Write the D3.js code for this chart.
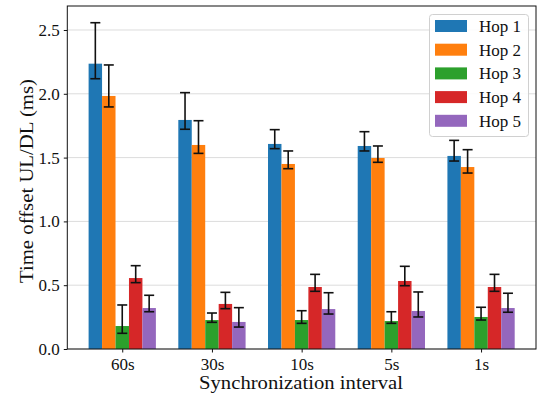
<!DOCTYPE html>
<html>
<head>
<meta charset="utf-8">
<script src="https://cdn.jsdelivr.net/npm/d3@7"></script>
<style>
  body { margin: 0; background: #fff; }
  svg text { font-family: "Liberation Serif", "DejaVu Serif", serif; fill: #111; }
</style>
</head>
<body>
<svg id="chart" width="539" height="398"></svg>
<script>
// categories and series
const intervals = ["60s", "30s", "10s", "5s", "1s"];
const hops = ["Hop 1", "Hop 2", "Hop 3", "Hop 4", "Hop 5"];
const colors = ["#1f77b4", "#ff7f0e", "#2ca02c", "#d62728", "#9467bd"];

// mean offset per hop (ms), one value per interval
const hop1 = [2.236, 1.795, 1.607, 1.591, 1.513];
const hop2 = [1.983, 1.599, 1.450, 1.497, 1.426];
const hop3 = [0.180, 0.227, 0.227, 0.219, 0.251];
const hop4 = [0.556, 0.353, 0.486, 0.533, 0.486];
const hop5 = [0.321, 0.212, 0.313, 0.298, 0.321];

// error bar bounds (ms)
const hop1Low = [2.118, 1.722, 1.570, 1.552, 1.473];
const hop1High = [2.557, 2.009, 1.719, 1.703, 1.635];
const hop2Low = [1.897, 1.533, 1.413, 1.463, 1.379];
const hop2High = [2.226, 1.789, 1.552, 1.591, 1.562];
const hop3Low = [0.123, 0.209, 0.201, 0.201, 0.227];
const hop3High = [0.345, 0.282, 0.300, 0.292, 0.327];
const hop4Low = [0.520, 0.316, 0.452, 0.496, 0.452];
const hop4High = [0.653, 0.444, 0.585, 0.648, 0.585];
const hop5Low = [0.292, 0.172, 0.274, 0.251, 0.288];
const hop5High = [0.421, 0.324, 0.441, 0.447, 0.437];

const yTicks = [0, 0.5, 1.0, 1.5, 2.0, 2.5];

const means = [hop1, hop2, hop3, hop4, hop5];
const lows = [hop1Low, hop2Low, hop3Low, hop4Low, hop5Low];
const highs = [hop1High, hop2High, hop3High, hop4High, hop5High];

const data = [];
hops.forEach((h, j) => {
  intervals.forEach((c, i) => {
    data.push({hop: j, cat: i, v: means[j][i], lo: lows[j][i], hi: highs[j][i]});
  });
});

const svg = d3.select("#chart");
const pLeft = 67.3, pRight = 536, pTop = 6, pBottom = 349;
const barW = 0.15;

const x = d3.scaleLinear().domain([-0.6125, 4.6125]).range([pLeft, pRight]);
const y = d3.scaleLinear().domain([0, 2.688]).range([pBottom, pTop]);

// grid
svg.append("g").selectAll("line")
  .data(yTicks)
  .enter().append("line")
  .attr("x1", pLeft).attr("x2", pRight)
  .attr("y1", d => y(d)).attr("y2", d => y(d))
  .style("stroke", "#dcdcdc")
  .style("stroke-width", 1);

// bars
svg.append("g").selectAll("rect")
  .data(data)
  .enter().append("rect")
  .attr("x", d => x(d.cat + (d.hop - 2) * barW - barW / 2))
  .attr("y", d => y(d.v))
  .attr("width", x(barW) - x(0))
  .attr("height", d => pBottom - y(d.v))
  .style("fill", d => colors[d.hop]);

// error bars
const eb = svg.append("g").selectAll("g")
  .data(data)
  .enter().append("g")
  .attr("transform", d => `translate(${x(d.cat + (d.hop - 2) * barW)},0)`);
eb.append("line")
  .attr("x1", 0).attr("x2", 0)
  .attr("y1", d => y(d.lo)).attr("y2", d => y(d.hi))
  .style("stroke", "#111").style("stroke-width", 1.6);
eb.append("line")
  .attr("x1", -5).attr("x2", 5)
  .attr("y1", d => y(d.lo)).attr("y2", d => y(d.lo))
  .style("stroke", "#111").style("stroke-width", 1.6);
eb.append("line")
  .attr("x1", -5).attr("x2", 5)
  .attr("y1", d => y(d.hi)).attr("y2", d => y(d.hi))
  .style("stroke", "#111").style("stroke-width", 1.6);

// axes
const yAxis = svg.append("g")
  .attr("transform", `translate(${pLeft},0)`)
  .call(d3.axisLeft(y).tickValues(yTicks).tickFormat(d3.format(".1f")).tickSize(3.5).tickPadding(4));
const xAxis = svg.append("g")
  .attr("transform", `translate(0,${pBottom})`)
  .call(d3.axisBottom(x).tickValues(d3.range(intervals.length)).tickFormat(i => intervals[i]).tickSize(3.5).tickPadding(5));
[yAxis, xAxis].forEach(a => {
  a.select(".domain").remove();
  a.selectAll("line").style("stroke", "#111");
  a.selectAll("text").style("font-size", "17px").style("fill", "#111")
    .style("font-family", '"Liberation Serif", serif');
});

// frame
svg.append("rect")
  .attr("x", pLeft).attr("y", pTop)
  .attr("width", pRight - pLeft).attr("height", pBottom - pTop)
  .style("fill", "none").style("stroke", "#111").style("stroke-width", 1);

// axis titles
svg.append("text")
  .attr("transform", `translate(33,181) rotate(-90)`)
  .attr("text-anchor", "middle")
  .attr("textLength", 204)
  .attr("lengthAdjust", "spacingAndGlyphs")
  .style("font-size", "18.5px")
  .text("Time offset UL/DL (ms)");
svg.append("text")
  .attr("x", 301).attr("y", 388.5)
  .attr("text-anchor", "middle")
  .attr("textLength", 204)
  .attr("lengthAdjust", "spacingAndGlyphs")
  .style("font-size", "18.5px")
  .text("Synchronization interval");

// legend
const lg = svg.append("g");
lg.append("rect")
  .attr("x", 429.5).attr("y", 14.5).attr("width", 99).attr("height", 122)
  .attr("rx", 3)
  .style("fill", "rgba(255,255,255,0.85)").style("stroke", "#d0d0d0");
const rows = lg.selectAll("g.row")
  .data(hops)
  .enter().append("g")
  .attr("transform", (d, j) => `translate(435,${26 + j * 23.7})`);
rows.append("rect")
  .attr("x", 0).attr("y", -6).attr("width", 32).attr("height", 12)
  .style("fill", (d, j) => colors[j]);
rows.append("text")
  .attr("x", 44).attr("y", 6)
  .style("font-size", "17px")
  .text(d => d);
</script>
</body>
</html>
